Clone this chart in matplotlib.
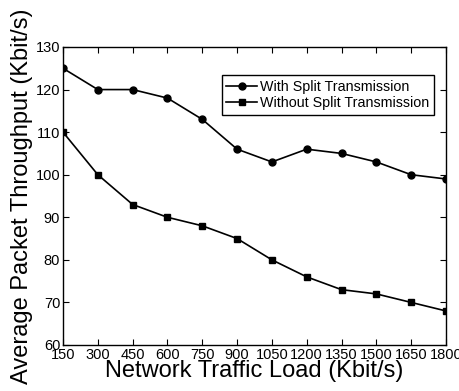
import numpy as np
import matplotlib
matplotlib.use("Agg")
import matplotlib.pyplot as plt

plt.rcParams['font.family'] = ['Liberation Sans', 'DejaVu Sans']

load = [150, 300, 450, 600, 750, 900, 1050, 1200, 1350, 1500, 1650, 1800]
with_split = [125, 120, 120, 118, 113, 106, 103, 106, 105, 103, 100, 99]
without_split = [110, 100, 93, 90, 88, 85, 80, 76, 73, 72, 70, 68]

fig = plt.figure(figsize=(4.6, 3.91), dpi=100)
ax = fig.add_axes([63 / 460, 1 - 345 / 391, 383 / 460, 298 / 391])

ax.plot(load, with_split, color="black", marker="o", markersize=5, linewidth=1.2,
        label="With Split Transmission")
ax.plot(load, without_split, color="black", marker="s", markersize=4.5, linewidth=1.2,
        label="Without Split Transmission")

ax.set_xlim(150, 1800)
ax.set_ylim(60, 130)
ax.set_xticks(load)
ax.set_yticks(np.arange(60, 131, 10))
ax.tick_params(direction="in", top=True, right=True, labelsize=10.5, length=4, pad=2)
for s in ax.spines.values():
    s.set_linewidth(1.0)

ax.set_xlabel("Network Traffic Load (Kbit/s)", fontsize=17, labelpad=-1)
ax.set_ylabel("Average Packet Throughput (Kbit/s)", fontsize=17, labelpad=2)

leg = ax.legend(loc="upper right", bbox_to_anchor=(0.968, 0.905), fontsize=10.3,
                frameon=True, fancybox=False, edgecolor="black", framealpha=1,
                handlelength=2.2, handletextpad=0.2, borderpad=0.3, labelspacing=0.2,
                borderaxespad=0)
leg.get_frame().set_linewidth(1.0)

fig.savefig("out.png", dpi=100)
